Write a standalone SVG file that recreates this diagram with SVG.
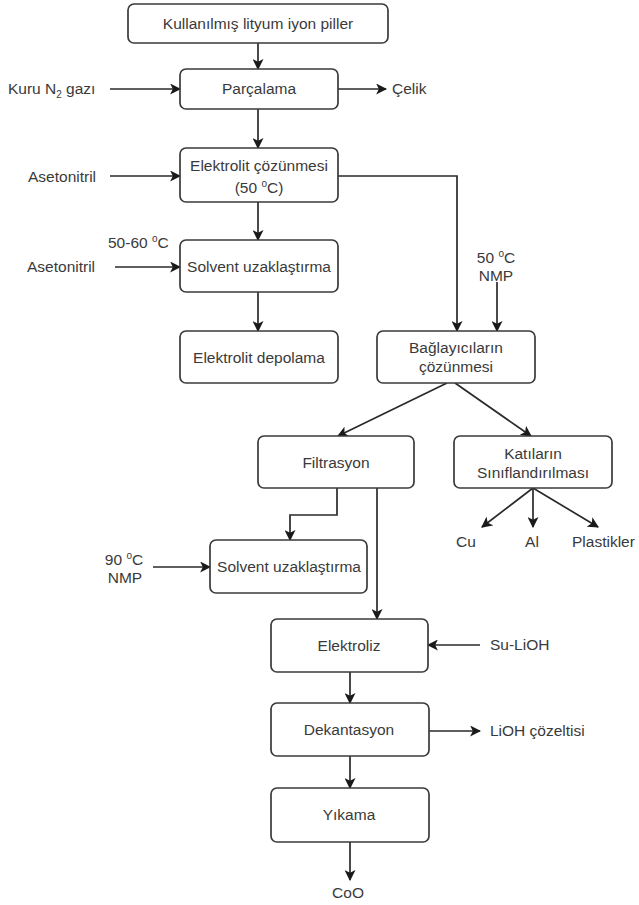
<svg xmlns="http://www.w3.org/2000/svg" width="639" height="905" viewBox="0 0 639 905">
<style>
  .box { fill: #ffffff; stroke: #3a3a3a; stroke-width: 1.7; }
  .edge { fill: none; stroke: #2a2a2a; stroke-width: 1.7; }
  text { font-family: "Liberation Sans", Arial, sans-serif; font-size: 15.5px; fill: #3a3a3a; }
  .c { text-anchor: middle; }
  .sup { font-size: 10px; }
</style>
<defs>
  <marker id="arr" viewBox="0 0 10 10" refX="9" refY="5" markerWidth="11" markerHeight="11" markerUnits="userSpaceOnUse" orient="auto">
    <path d="M0,0 L10,5 L0,10 L2.5,5 z" fill="#1a1a1a"/>
  </marker>
</defs>
<rect width="639" height="905" fill="#ffffff"/>

<g id="connectors">
  <path class="edge" d="M258,43 V69" marker-end="url(#arr)"/>
  <path class="edge" d="M110,89 H180" marker-end="url(#arr)"/>
  <path class="edge" d="M338,89 H386" marker-end="url(#arr)"/>
  <path class="edge" d="M258,109 V148" marker-end="url(#arr)"/>
  <path class="edge" d="M110,176 H180" marker-end="url(#arr)"/>
  <path class="edge" d="M338,176 H457 V331" marker-end="url(#arr)"/>
  <path class="edge" d="M258,202 V240" marker-end="url(#arr)"/>
  <path class="edge" d="M115,267 H180" marker-end="url(#arr)"/>
  <path class="edge" d="M258,292 V331" marker-end="url(#arr)"/>
  <path class="edge" d="M497,282 V331" marker-end="url(#arr)"/>
  <path class="edge" d="M447,383 L338,436" marker-end="url(#arr)"/>
  <path class="edge" d="M455,383 L531,436" marker-end="url(#arr)"/>
  <path class="edge" d="M533,488 L482,527" marker-end="url(#arr)"/>
  <path class="edge" d="M533,488 V527" marker-end="url(#arr)"/>
  <path class="edge" d="M533,488 L598,527" marker-end="url(#arr)"/>
  <path class="edge" d="M337,488 V515 H290 V540" marker-end="url(#arr)"/>
  <path class="edge" d="M377,488 V619" marker-end="url(#arr)"/>
  <path class="edge" d="M153,567 H210" marker-end="url(#arr)"/>
  <path class="edge" d="M480,645 H428" marker-end="url(#arr)"/>
  <path class="edge" d="M350,672 V703" marker-end="url(#arr)"/>
  <path class="edge" d="M429,731 H480" marker-end="url(#arr)"/>
  <path class="edge" d="M350,756 V788" marker-end="url(#arr)"/>
  <path class="edge" d="M350,842 V880" marker-end="url(#arr)"/>
</g>

<g id="n-piller">
  <rect class="box" x="128" y="4" width="260" height="39" rx="6"/>
  <text class="c" x="258" y="29">Kullanılmış lityum iyon piller</text>
</g>
<g id="n-parcalama">
  <rect class="box" x="180" y="69" width="158" height="40" rx="6"/>
  <text class="c" x="259" y="94">Parçalama</text>
</g>
<g id="n-elektrolit-cozunmesi">
  <rect class="box" x="180" y="148" width="158" height="54" rx="6"/>
  <text class="c" x="259" y="171">Elektrolit çözünmesi</text>
  <text class="c" x="259" y="193">(50 <tspan class="sup" dy="-6">o</tspan><tspan dy="6">C)</tspan></text>
</g>
<g id="n-solvent1">
  <rect class="box" x="180" y="240" width="158" height="52" rx="6"/>
  <text class="c" x="259" y="272">Solvent uzaklaştırma</text>
</g>
<g id="n-depolama">
  <rect class="box" x="180" y="331" width="158" height="52" rx="6"/>
  <text class="c" x="259" y="363">Elektrolit depolama</text>
</g>
<g id="n-baglayici">
  <rect class="box" x="377" y="331" width="158" height="52" rx="6"/>
  <text class="c" x="456" y="353">Bağlayıcıların</text>
  <text class="c" x="456" y="372">çözünmesi</text>
</g>
<g id="n-filtrasyon">
  <rect class="box" x="258" y="436" width="156" height="52" rx="6"/>
  <text class="c" x="336" y="468">Filtrasyon</text>
</g>
<g id="n-katilar">
  <rect class="box" x="454" y="436" width="158" height="52" rx="6"/>
  <text class="c" x="533" y="459">Katıların</text>
  <text class="c" x="533" y="478">Sınıflandırılması</text>
</g>
<g id="n-solvent2">
  <rect class="box" x="210" y="540" width="157" height="53" rx="6"/>
  <text class="c" x="289" y="572">Solvent uzaklaştırma</text>
</g>
<g id="n-elektroliz">
  <rect class="box" x="271" y="619" width="157" height="53" rx="6"/>
  <text class="c" x="349" y="651">Elektroliz</text>
</g>
<g id="n-dekantasyon">
  <rect class="box" x="271" y="703" width="158" height="53" rx="6"/>
  <text class="c" x="349" y="735">Dekantasyon</text>
</g>
<g id="n-yikama">
  <rect class="box" x="271" y="788" width="158" height="54" rx="6"/>
  <text class="c" x="349" y="820">Yıkama</text>
</g>

<g id="labels">
  <text x="8" y="94">Kuru N<tspan class="sup" dy="4">2</tspan><tspan dy="-4"> gazı</tspan></text>
  <text x="392" y="94">Çelik</text>
  <text x="28" y="182">Asetonitril</text>
  <text x="27" y="272">Asetonitril</text>
  <text x="108" y="248">50-60 <tspan class="sup" dy="-6">o</tspan><tspan dy="6">C</tspan></text>
  <text class="c" x="496" y="263">50 <tspan class="sup" dy="-6">o</tspan><tspan dy="6">C</tspan></text>
  <text class="c" x="496" y="281">NMP</text>
  <text class="c" x="466" y="547">Cu</text>
  <text class="c" x="532" y="547">Al</text>
  <text x="572" y="547">Plastikler</text>
  <text class="c" x="124" y="565">90 <tspan class="sup" dy="-6">o</tspan><tspan dy="6">C</tspan></text>
  <text class="c" x="125" y="583">NMP</text>
  <text x="490" y="650">Su-LiOH</text>
  <text x="490" y="736">LiOH çözeltisi</text>
  <text class="c" x="348" y="898">CoO</text>
</g>
</svg>
